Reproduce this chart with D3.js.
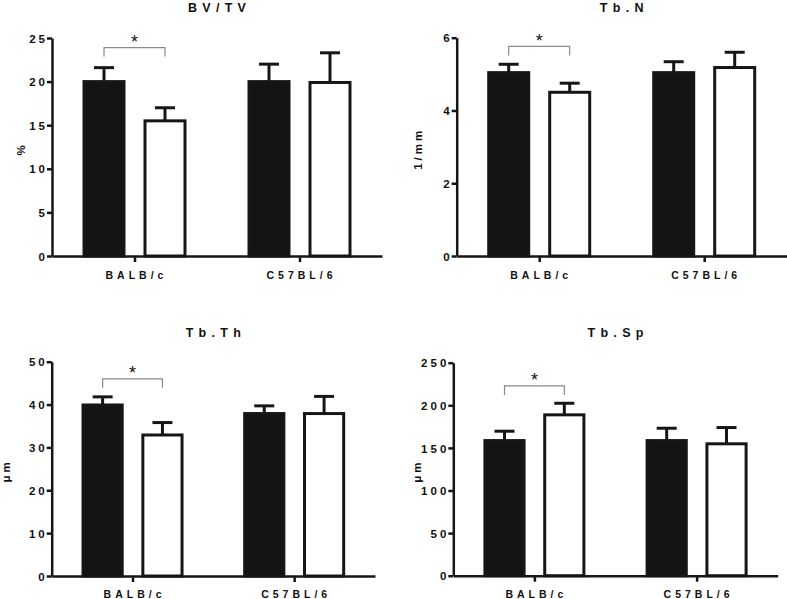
<!DOCTYPE html>
<html>
<head>
<meta charset="utf-8">
<script src="https://cdn.jsdelivr.net/npm/d3@7"></script>
<style>
  html, body { margin: 0; padding: 0; background: #fff; }
  svg { display: block; }
  text { font-family: "Liberation Sans", Arial, sans-serif; fill: #111; }
</style>
</head>
<body>
<svg id="chart" width="787" height="599"></svg>
<script>
// ---------- data ----------
const categories = ["BALB/c", "C57BL/6"];

const titles = ["BV/TV", "Tb.N", "Tb.Th", "Tb.Sp"];
const yLabels = ["%", "1/mm", "\u03BCm", "\u03BCm"];

const bvtvTicks = [0, 5, 10, 15, 20, 25];
const bvtvFilled = [20.0, 20.0];
const bvtvFilledSem = [1.6, 2.0];
const bvtvOpen = [15.5, 19.9];
const bvtvOpenSem = [1.5, 3.4];

const tbnTicks = [0, 2, 4, 6];
const tbnFilled = [5.04, 5.04];
const tbnFilledSem = [0.23, 0.30];
const tbnOpen = [4.50, 5.18];
const tbnOpenSem = [0.25, 0.42];

const tbthTicks = [0, 10, 20, 30, 40, 50];
const tbthFilled = [39.9, 37.9];
const tbthFilledSem = [1.9, 1.8];
const tbthOpen = [32.9, 37.9];
const tbthOpenSem = [2.9, 4.0];

const tbspTicks = [0, 50, 100, 150, 200, 250];
const tbspFilled = [158.6, 158.6];
const tbspFilledSem = [11.0, 14.5];
const tbspOpen = [188.8, 154.8];
const tbspOpenSem = [13.6, 19.1];

// significance bracket level (data units) for BALB/c comparison
const sigLevels = [23.9, 5.76, 46.0, 222.7];
const sigMarks = ["*", "*", "*", "*"];

// ---------- layout ----------
const panels = [
  { ticks: bvtvTicks, filled: bvtvFilled, filledSem: bvtvFilledSem, open: bvtvOpen, openSem: bvtvOpenSem,
    axisX: 52, xEnd: 382, yTop: 38, y0: 256, titleY: 11.7, labelX: 25, catY: 278.5, half: 52 },
  { ticks: tbnTicks, filled: tbnFilled, filledSem: tbnFilledSem, open: tbnOpen, openSem: tbnOpenSem,
    axisX: 456.7, xEnd: 786.7, yTop: 37.7, y0: 256, titleY: 11.7, labelX: 422, catY: 278.5, half: 52 },
  { ticks: tbthTicks, filled: tbthFilled, filledSem: tbthFilledSem, open: tbthOpen, openSem: tbthOpenSem,
    axisX: 51.7, xEnd: 375, yTop: 361.7, y0: 576, titleY: 336.5, labelX: 9.5, catY: 598, half: 51 },
  { ticks: tbspTicks, filled: tbspFilled, filledSem: tbspFilledSem, open: tbspOpen, openSem: tbspOpenSem,
    axisX: 453.3, xEnd: 777.7, yTop: 362.7, y0: 575.7, titleY: 337, labelX: 421, catY: 598, half: 51 }
];

const ink = "#161616";
const svg = d3.select("#chart");

panels.forEach((p, pi) => {
  const g = svg.append("g");
  const yMax = p.ticks[p.ticks.length - 1];
  const y = d3.scaleLinear().domain([0, yMax]).range([p.y0, p.yTop]);
  const x = d3.scalePoint().domain(categories).range([p.axisX, p.xEnd]).padding(0.5);
  const inner = d3.scaleBand().domain(["filled", "open"]).range([-p.half, p.half]).paddingInner(0.295).paddingOuter(0);
  const bw = inner.bandwidth();

  const rows = [];
  categories.forEach((c, ci) => {
    rows.push({ cat: c, s: "filled", v: p.filled[ci], e: p.filledSem[ci] });
    rows.push({ cat: c, s: "open", v: p.open[ci], e: p.openSem[ci] });
  });

  // error bars (drawn first, bar covers the lower part)
  const eb = g.append("g").attr("stroke", ink).attr("stroke-width", 3);
  rows.forEach(r => {
    const cx = x(r.cat) + inner(r.s) + bw / 2;
    eb.append("line").attr("x1", cx).attr("x2", cx).attr("y1", y(r.v)).attr("y2", y(r.v + r.e));
    eb.append("line").attr("x1", cx - 10).attr("x2", cx + 10).attr("y1", y(r.v + r.e)).attr("y2", y(r.v + r.e));
  });

  // bars
  g.append("g").selectAll("rect").data(rows).join("rect")
    .attr("x", r => x(r.cat) + inner(r.s) + 1.5)
    .attr("width", bw - 3)
    .attr("y", r => y(r.v))
    .attr("height", r => y(0) - y(r.v))
    .attr("fill", r => r.s === "filled" ? "#141414" : "#ffffff")
    .attr("stroke", ink)
    .attr("stroke-width", 3);

  // y axis
  const ya = g.append("g").attr("transform", `translate(${p.axisX},0)`)
    .call(d3.axisLeft(y).tickValues(p.ticks).tickSize(5).tickSizeOuter(0).tickPadding(0).tickFormat(d3.format("d")));
  ya.select(".domain").attr("stroke", ink).attr("stroke-width", 2.5);
  ya.selectAll(".tick line").attr("stroke", ink).attr("stroke-width", 2.5);
  ya.selectAll(".tick text")
    .attr("x", -4)
    .attr("dy", "0.36em")
    .style("font-family", "'Liberation Sans', Arial, sans-serif")
    .style("font-size", "11.5px").style("font-weight", "bold")
    .style("letter-spacing", "3px").attr("fill", "#111");

  // x axis
  const xa = g.append("g").attr("transform", `translate(0,${p.y0})`)
    .call(d3.axisBottom(x).tickSize(6).tickSizeOuter(0).tickFormat(() => ""));
  xa.select(".domain").attr("stroke", ink).attr("stroke-width", 2.5);
  xa.selectAll(".tick line").attr("stroke", ink).attr("stroke-width", 2.5);

  // category labels
  g.append("g").selectAll("text").data(categories).join("text")
    .attr("x", c => x(c) + 2)
    .attr("y", p.catY)
    .attr("text-anchor", "middle")
    .style("font-size", "10.5px").style("font-weight", "bold").style("letter-spacing", "4px")
    .text(c => c);

  // title
  g.append("text")
    .attr("x", (p.axisX + p.xEnd) / 2 + 2.6)
    .attr("y", p.titleY)
    .attr("text-anchor", "middle")
    .style("font-size", "12.5px").style("font-weight", "bold").style("letter-spacing", "5.3px")
    .text(titles[pi]);

  // y label
  const ly = (p.y0 + p.yTop) / 2 + 2;
  g.append("text")
    .attr("transform", `translate(${p.labelX},${ly}) rotate(-90)`)
    .attr("text-anchor", "middle")
    .style("font-size", "11.5px").style("font-weight", "bold").style("letter-spacing", "3px")
    .text(yLabels[pi]);

  // significance bracket
  const c0 = categories[0];
  const bx1 = x(c0) + inner("filled") + bw / 2;
  const bx2 = x(c0) + inner("open") + bw / 2;
  const by = y(sigLevels[pi]);
  g.append("path")
    .attr("d", `M${bx1},${by + 9}V${by}H${bx2}V${by + 9}`)
    .attr("fill", "none").attr("stroke", "#8a8a8a").attr("stroke-width", 1.2);
  g.append("text")
    .attr("x", (bx1 + bx2) / 2)
    .attr("y", by + 0.5)
    .attr("text-anchor", "middle")
    .style("font-size", "18px").attr("fill", "#333")
    .text(sigMarks[pi]);
});
</script>
</body>
</html>
